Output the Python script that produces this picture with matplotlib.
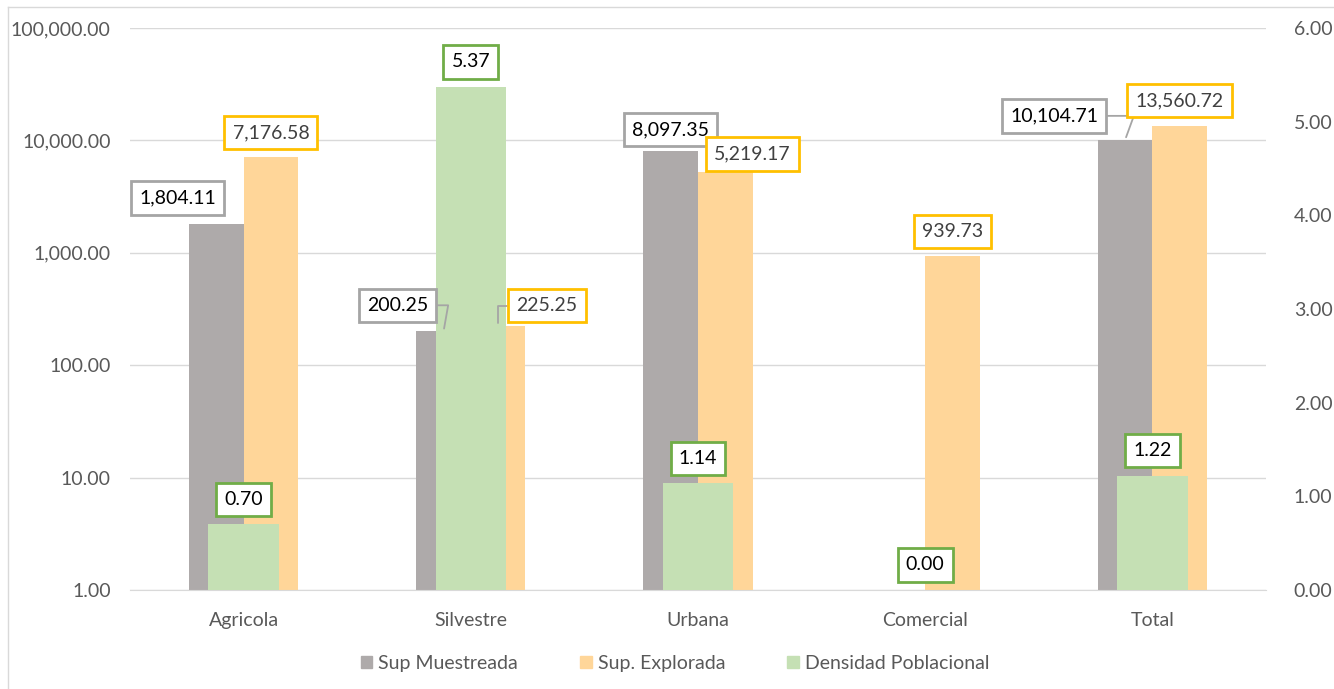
import matplotlib.pyplot as plt
from matplotlib.lines import Line2D
from matplotlib.patches import Patch
import numpy as np

plt.rcParams['font.family'] = ['Lato', 'DejaVu Sans']

categorias = ['Agricola', 'Silvestre', 'Urbana', 'Comercial', 'Total']
sup_muestreada = [1804.11, 200.25, 8097.35, np.nan, 10104.71]
sup_explorada = [7176.58, 225.25, 5219.17, 939.73, 13560.72]
densidad = [0.70, 5.37, 1.14, 0.00, 1.22]

c_gris = '#AEAAAA'
c_naranja = '#FFD699'
c_verde = '#C5E0B4'
txt = '#595959'

fig = plt.figure(figsize=(13.34, 6.89), dpi=100)
ax = fig.add_axes([0.0975, 0.1437, 0.8515, 0.8157])
ax2 = ax.twinx()

x = np.arange(len(categorias))
w = 0.24
ax.bar(x - w / 2, sup_muestreada, w, color=c_gris, zorder=2)
ax.bar(x + w / 2, sup_explorada, w, color=c_naranja, zorder=2)
ax2.bar(x, densidad, 0.31, color=c_verde, zorder=2)

ax.set_yscale('log')
ax.set_ylim(1, 100000)
ax.set_yticks([1, 10, 100, 1000, 10000, 100000])
ax.set_yticklabels([f'{v:,.2f}' for v in [1, 10, 100, 1000, 10000, 100000]])
ax.yaxis.set_minor_locator(plt.NullLocator())
ax2.set_ylim(0, 6)
ax2.set_yticks(range(7))
ax2.set_yticklabels([f'{v:.2f}' for v in range(7)])
ax.set_xlim(-0.5, 4.5)
ax.set_xticks(x)
ax.set_xticklabels(categorias)

ax.grid(axis='y', color='#D9D9D9', lw=1, zorder=0)
for a in (ax, ax2):
    for s in a.spines.values():
        s.set_visible(False)
    a.tick_params(length=0, labelsize=14, colors=txt)
ax.spines['bottom'].set_visible(True)
ax.spines['bottom'].set_color('#D9D9D9')
ax.tick_params(axis='x', pad=16)
ax.tick_params(axis='y', pad=14)
ax2.tick_params(axis='y', pad=20)

def etiqueta(xv, yv, texto, dx, dy, ec, trans, tc='black', linea=None):
    kw = dict(xy=(xv, yv), xycoords=trans, xytext=(dx, dy), textcoords='offset pixels',
              ha='center', va='center', fontsize=14, color=tc, zorder=10,
              bbox=dict(boxstyle='square,pad=0.42', fc='white', ec=ec, lw=2))
    if linea:
        kw['arrowprops'] = dict(arrowstyle='-', color='#A5A5A5', lw=1.3,
                                connectionstyle=linea, shrinkA=0, shrinkB=2)
    ax2.annotate(texto, **kw)

off_g = [(-39, 26, None), (-46, 26, 'angle,angleA=0,angleB=80,rad=0'), (0, 21, None), None,
         (-71, 24, 'angle,angleA=0,angleB=70,rad=0')]
off_n = [(0, 24, None), (49, 20, 'angle,angleA=0,angleB=90,rad=0'), (27, 18, None), (0, 24, None),
         (0, 25, None)]
for i in range(len(categorias)):
    if off_g[i] is not None:
        dx, dy, ln = off_g[i]
        etiqueta(x[i] - w / 2, sup_muestreada[i], f'{sup_muestreada[i]:,.2f}', dx, dy,
                 '#A5A5A5', ax.transData, linea=ln)
    dx, dy, ln = off_n[i]
    etiqueta(x[i] + w / 2, sup_explorada[i], f'{sup_explorada[i]:,.2f}', dx, dy,
             '#FFC000', ax.transData, tc='#404040', linea=ln)
    etiqueta(x[i], densidad[i], f'{densidad[i]:.2f}', 0, 25, '#70AD47', ax2.transData)

handles = [Patch(color=c_gris, label='Sup Muestreada'),
           Patch(color=c_naranja, label='Sup. Explorada'),
           Patch(color=c_verde, label='Densidad Poblacional')]
fig.legend(handles=handles, loc='center', bbox_to_anchor=(0.506, 0.037), ncol=3, frameon=False,
           fontsize=14, labelcolor=txt, handlelength=0.6, handleheight=0.6,
           handletextpad=0.3, columnspacing=3.2)

fig.add_artist(Line2D([0.006, 0.006], [0, 0.99], transform=fig.transFigure, color='#D9D9D9', lw=1))
fig.add_artist(Line2D([0.006, 1], [0.99, 0.99], transform=fig.transFigure, color='#D9D9D9', lw=1))

fig.savefig('out.png', dpi=100)
